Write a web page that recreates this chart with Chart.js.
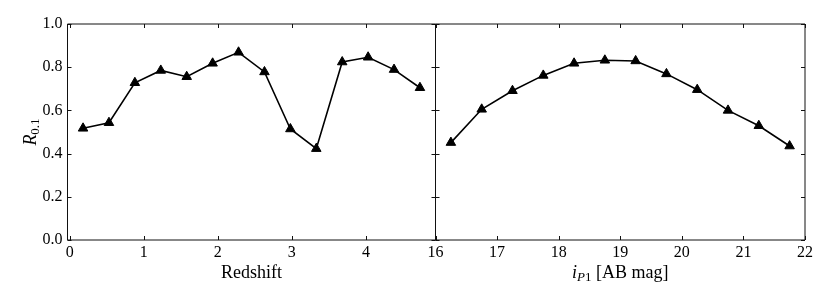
<!DOCTYPE html>
<html>
<head>
<meta charset="utf-8">
<script src="https://cdn.jsdelivr.net/npm/chart.js@4.4.1/dist/chart.umd.min.js"></script>
<style>
  html, body { margin: 0; padding: 0; background: #fff; }
  #wrap { position: relative; width: 830px; height: 302px; }
  #wrap canvas { position: absolute; left: 0; top: 0; }
</style>
</head>
<body>
<div id="wrap">
  <canvas id="leftChart" width="830" height="302"></canvas>
  <canvas id="rightChart" width="830" height="302"></canvas>
</div>
<script>
// left panel: completeness vs redshift
const redshift = [0.18, 0.53, 0.88, 1.23, 1.58, 1.93, 2.28, 2.63, 2.98, 3.33, 3.68, 4.03, 4.38, 4.73];
const R_redshift = [0.517, 0.543, 0.728, 0.785, 0.756, 0.818, 0.869, 0.778, 0.514, 0.423, 0.824, 0.846, 0.789, 0.705];
const redshiftTicks = [0, 1, 2, 3, 4];

// right panel: completeness vs i_P1 magnitude
const magnitude = [16.25, 16.75, 17.25, 17.75, 18.25, 18.75, 19.25, 19.75, 20.25, 20.75, 21.25, 21.75];
const R_magnitude = [0.451, 0.605, 0.691, 0.762, 0.818, 0.832, 0.829, 0.769, 0.696, 0.600, 0.529, 0.435];
const magTicks = [16, 17, 18, 19, 20, 21, 22];

const yTicks = [0.0, 0.2, 0.4, 0.6, 0.8, 1.0];

const serif = '"Liberation Serif", "Times New Roman", serif';
const TOP = 24, AXIS_H = 62;

// frame and inward ticks on all four sides, like the matplotlib default
const framePlugin = {
  id: 'frame',
  afterDraw(chart) {
    const {ctx, chartArea: a, scales} = chart;
    const tl = 4;
    ctx.save();
    ctx.strokeStyle = '#111';
    ctx.lineWidth = 1;
    ctx.beginPath();
    ctx.rect(a.left, a.top, a.right - a.left, a.bottom - a.top);
    ctx.stroke();
    ctx.beginPath();
    scales.x.ticks.forEach(t => {
      const px = Math.round(scales.x.getPixelForValue(t.value)) + 0.5;
      ctx.moveTo(px, a.bottom); ctx.lineTo(px, a.bottom - tl);
      ctx.moveTo(px, a.top); ctx.lineTo(px, a.top + tl);
    });
    yTicks.forEach(v => {
      const py = Math.round(scales.y.getPixelForValue(v)) + 0.5;
      ctx.moveTo(a.left, py); ctx.lineTo(a.left + tl, py);
      ctx.moveTo(a.right, py); ctx.lineTo(a.right - tl, py);
    });
    ctx.stroke();
    ctx.restore();
  }
};

// axis titles with sub-scripts drawn as text runs
function drawRuns(ctx, runs, x, y) {
  let total = 0;
  runs.forEach(r => { ctx.font = r.font; total += ctx.measureText(r.text).width; });
  let cx = x - total / 2;
  runs.forEach(r => {
    ctx.font = r.font;
    ctx.fillText(r.text, cx, y + (r.dy || 0));
    cx += ctx.measureText(r.text).width;
  });
}

const titlePlugin = {
  id: 'titles',
  afterDraw(chart, args, opts) {
    const {ctx, chartArea: a} = chart;
    ctx.save();
    ctx.fillStyle = '#000';
    ctx.textBaseline = 'alphabetic';
    ctx.textAlign = 'left';
    drawRuns(ctx, opts.xTitle, (a.left + a.right) / 2, 278);
    if (opts.yTitle) {
      ctx.translate(36, (a.top + a.bottom) / 2);
      ctx.rotate(-Math.PI / 2);
      drawRuns(ctx, opts.yTitle, 0, 0);
    }
    ctx.restore();
  }
};

function config(xs, ys, xmin, xmax, xTicks, showY, padding, xTitle, yTitle) {
  return {
    type: 'line',
    data: {
      datasets: [{
        data: xs.map((x, i) => ({x: x, y: ys[i]})),
        borderColor: '#000',
        backgroundColor: '#000',
        borderWidth: 1.6,
        pointStyle: 'triangle',
        pointRadius: 5.5,
        pointBorderWidth: 1,
        tension: 0
      }]
    },
    options: {
      responsive: false,
      animation: false,
      layout: {padding: padding},
      plugins: {
        legend: {display: false},
        tooltip: {enabled: false},
        titles: {xTitle: xTitle, yTitle: yTitle}
      },
      scales: {
        x: {
          type: 'linear',
          min: xmin,
          max: xmax,
          grid: {display: false, drawTicks: false},
          border: {display: false},
          afterBuildTicks: s => { s.ticks = xTicks.map(v => ({value: v})); },
          afterFit: s => { s.height = AXIS_H; },
          ticks: {
            padding: 3,
            color: '#000',
            font: {family: serif, size: 16},
            maxRotation: 0,
            autoSkip: false,
            callback: v => String(v)
          }
        },
        y: {
          display: showY,
          min: 0,
          max: 1,
          grid: {display: false, drawTicks: false},
          border: {display: false},
          afterBuildTicks: s => { s.ticks = yTicks.map(v => ({value: v})); },
          afterFit: s => { s.width = showY ? 67.5 : 0; },
          ticks: {
            padding: 5,
            color: '#000',
            font: {family: serif, size: 16},
            callback: v => Number(v).toFixed(1)
          }
        }
      }
    },
    plugins: [framePlugin, titlePlugin]
  };
}

function build() {
  new Chart(document.getElementById('leftChart'), config(
    redshift, R_redshift, -0.03, 4.94, redshiftTicks, true,
    {left: 0, right: 830 - 435.5, top: TOP, bottom: 0},
    [{text: 'Redshift', font: '18px ' + serif}],
    [{text: 'R', font: 'italic 18px ' + serif},
     {text: '0.1', font: '13px ' + serif, dy: 3}]
  ));

  new Chart(document.getElementById('rightChart'), config(
    magnitude, R_magnitude, 16, 22, magTicks, false,
    {left: 435.5, right: 25, top: TOP, bottom: 0},
    [{text: 'i', font: 'italic 18px ' + serif},
     {text: 'P', font: 'italic 13px ' + serif, dy: 3},
     {text: '1', font: '13px ' + serif, dy: 3},
     {text: ' [AB mag]', font: '18px ' + serif}],
    null
  ));
}

Promise.all([
  document.fonts.load('16px "Liberation Serif"'),
  document.fonts.load('italic 18px "Liberation Serif"')
]).then(build, build);
</script>
</body>
</html>
